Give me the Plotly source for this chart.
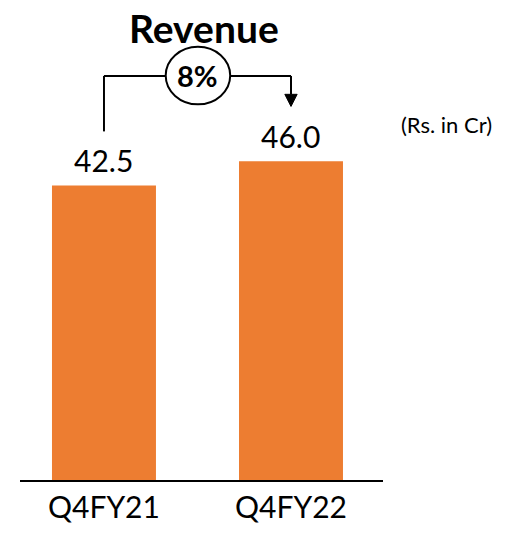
import plotly.graph_objects as go

categories = ["Q4FY21", "Q4FY22"]
revenue = [42.5, 46.0]
value_labels = ["42.5", "46.0"]
growth_label = "8%"
title_text = "Revenue"
unit_text = "(Rs. in Cr)"

FONT = "Lato, Calibri, Carlito, sans-serif"
ORANGE = "#ED7D31"

OFF = 0  # body margin removed via post_script
W, H = 506 - OFF, 534 - OFF
L, R, T, B = 20 - OFF, 123, 10 - OFF, 52
PW, PH = W - L - R, H - T - B

def px_x(page_x):
    return (page_x - OFF - L) / PW

def px_y(page_y):
    return 1 - (page_y - OFF - T) / PH

fig = go.Figure()
fig.add_trace(go.Bar(
    x=[0, 1], y=revenue, width=0.556,
    marker=dict(color=ORANGE, line=dict(width=0)),
    hoverinfo="skip",
))
for i, (v, lab) in enumerate(zip(revenue, value_labels)):
    fig.add_annotation(x=i, y=v, xref="x", yref="y", text=lab, showarrow=False,
                       yanchor="middle", yshift=25,
                       font=dict(family=FONT, size=30, color="#000000"))

# connector (data-relative)
y_left_start = revenue[0] + 7.8
y_top = max(revenue) + 12.3
y_tip = revenue[1] + 7.9
head_h = 1.75
head_w = 0.033
line = dict(color="#000000", width=2)
fig.add_shape(type="line", xref="x", yref="y", x0=0, x1=0, y0=y_left_start, y1=y_top, line=line)
fig.add_shape(type="line", xref="x", yref="y", x0=0, x1=0.33, y0=y_top, y1=y_top, line=line)
fig.add_shape(type="line", xref="x", yref="y", x0=0.675, x1=1, y0=y_top, y1=y_top, line=line)
fig.add_shape(type="line", xref="x", yref="y", x0=1, x1=1, y0=y_top, y1=y_tip + head_h, line=line)
fig.add_shape(type="path", xref="x", yref="y",
              path=f"M {1 - head_w},{y_tip + head_h} L {1 + head_w},{y_tip + head_h} L 1,{y_tip} Z",
              fillcolor="#000000", line=dict(color="#000000", width=1))
fig.add_shape(type="circle", xref="x", yref="y", x0=0.33, x1=0.675,
              y0=y_top - 4.1, y1=y_top + 4.2, line=line, fillcolor="white")
fig.add_annotation(x=0.5025, y=y_top, xref="x", yref="y", text="<b>" + growth_label + "</b>",
                   showarrow=False, font=dict(family=FONT, size=29, color="#000000"))

fig.add_annotation(x=px_x(446), y=px_y(125), xref="paper", yref="paper",
                   xanchor="center", yanchor="middle", text=unit_text, showarrow=False,
                   font=dict(family=FONT, size=22, color="#000000"))

fig.add_annotation(x=px_x(204), y=px_y(28), xref="paper", yref="paper",
                   xanchor="center", yanchor="middle", text="<b>" + title_text + "</b>",
                   showarrow=False, font=dict(family=FONT, size=39, color="#000000"))

fig.update_layout(
    width=W, height=H,
    margin=dict(l=L, r=R, t=T, b=B),
    paper_bgcolor="white", plot_bgcolor="white",
    showlegend=False,
    xaxis=dict(range=[-0.449, 1.492], tickvals=[0, 1], ticktext=categories,
               showline=True, linecolor="#000000", linewidth=2, showgrid=False,
               zeroline=False, ticks="", tickfont=dict(family=FONT, size=30, color="#000000")),
    yaxis=dict(range=[0, PH / 6.96], visible=False, showgrid=False, zeroline=False),
)

fig.write_html("out.html",
               config={"displayModeBar": False, "staticPlot": True},
               post_script="document.body.style.margin='0';document.body.style.overflow='hidden';")
